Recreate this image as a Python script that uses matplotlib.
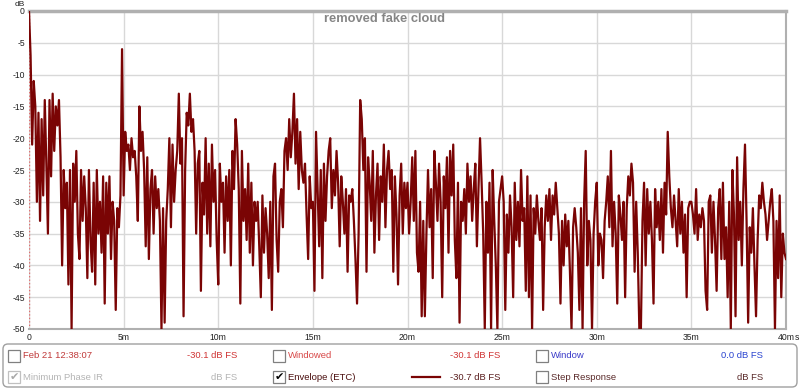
import matplotlib
matplotlib.use("Agg")
import matplotlib.pyplot as plt
from matplotlib.patches import FancyBboxPatch, Rectangle
from matplotlib.lines import Line2D
import numpy as np

plt.rcParams["font.family"] = ["Liberation Sans", "DejaVu Sans"]

# ETC trace, 12 samples per millisecond (0 .. 40 ms)
etc_db = [
    0, -7, -21, -11, -15, -30, -16, -33, -17, -29, -14, -24,
    -35, -14, -26, -13, -22, -15, -18, -14, -23, -40, -25, -31,
    -27, -43, -25, -50, -24, -30, -22, -35, -39, -25, -33, -26,
    -31, -42, -25, -36, -41, -27, -43, -25, -35, -30, -38, -26,
    -46, -27, -35, -26, -39, -30, -33, -47, -31, -34, -29, -6,
    -29, -19, -22, -21, -25, -20, -23, -22, -26, -33, -15, -22,
    -19, -25, -37, -23, -39, -28, -25, -35, -26, -31, -28, -33,
    -50, -31, -49, -33, -28, -20, -34, -21, -30, -25, -22, -13,
    -24, -20, -48, -25, -16, -18, -13, -19, -17, -22, -35, -24,
    -22, -44, -27, -32, -20, -35, -24, -37, -21, -30, -25, -36,
    -43, -24, -30, -27, -38, -26, -33, -25, -40, -22, -28, -17,
    -21, -28, -46, -22, -33, -28, -36, -24, -38, -27, -40, -30,
    -33, -30, -37, -45, -29, -38, -31, -35, -42, -30, -47, -26,
    -24, -36, -41, -30, -28, -34, -22, -20, -25, -17, -23, -19,
    -13, -24, -17, -28, -19, -25, -27, -24, -32, -39, -26, -31,
    -30, -44, -19, -28, -37, -25, -42, -24, -33, -26, -22, -20,
    -31, -25, -29, -22, -27, -37, -26, -30, -35, -28, -41, -29,
    -30, -28, -33, -39, -46, -35, -14, -17, -25, -20, -41, -23,
    -27, -33, -22, -38, -29, -24, -36, -26, -30, -21, -34, -25,
    -22, -28, -25, -41, -26, -32, -43, -29, -24, -35, -27, -31,
    -27, -35, -30, -23, -33, -22, -38, -41, -30, -48, -33, -48,
    -35, -25, -34, -28, -42, -22, -27, -33, -24, -30, -45, -26,
    -31, -23, -38, -22, -29, -21, -36, -42, -27, -49, -30, -33,
    -28, -35, -24, -30, -26, -33, -28, -24, -37, -28, -20, -27,
    -35, -50, -30, -38, -27, -50, -25, -33, -40, -50, -30, -28,
    -26, -30, -47, -32, -38, -29, -34, -45, -27, -36, -30, -37,
    -25, -33, -31, -44, -26, -45, -29, -50, -31, -35, -29, -33,
    -36, -31, -47, -34, -29, -33, -28, -36, -29, -32, -27, -31,
    -35, -46, -33, -40, -32, -37, -33, -41, -50, -34, -31, -34,
    -38, -47, -31, -50, -30, -22, -40, -33, -36, -50, -35, -30,
    -27, -40, -35, -36, -42, -33, -30, -26, -34, -22, -37, -30,
    -35, -46, -29, -32, -36, -30, -45, -31, -26, -29, -24, -27,
    -41, -30, -38, -50, -50, -33, -27, -40, -28, -35, -30, -36,
    -46, -28, -34, -30, -36, -28, -38, -27, -32, -19, -26, -31,
    -34, -29, -33, -37, -28, -35, -30, -38, -32, -45, -31, -30,
    -30, -32, -35, -28, -36, -32, -34, -31, -33, -44, -47, -30,
    -29, -38, -30, -36, -44, -31, -28, -39, -27, -39, -34, -45,
    -30, -50, -25, -32, -48, -23, -36, -30, -40, -28, -21, -33,
    -49, -34, -38, -31, -40, -48, -36, -29, -31, -27, -30, -32,
    -36, -33, -30, -28, -33, -50, -33, -42, -29, -45, -35, -38,
    -39,
]
samples_per_ms = 12
time_ms = np.arange(len(etc_db)) / samples_per_ms

y_ticks = [0, -5, -10, -15, -20, -25, -30, -35, -40, -45, -50]
x_ticks = [0, 5, 10, 15, 20, 25, 30, 35, 40]
x_labels = ["0", "5m", "10m", "15m", "20m", "25m", "30m", "35m", "40m"]

W, H = 800, 389
fig = plt.figure(figsize=(W / 100, H / 100), dpi=100)
fig.patch.set_facecolor("white")


def px(x, y):
    # pixel position (top-left origin) -> inches for dpi_scale_trans
    return x / 100, (H - y) / 100


ax = fig.add_axes([29 / W, 1 - 329 / H, 757 / W, 318 / H])
ax.plot(time_ms, etc_db, color="#7a0404", lw=1.6, zorder=3)
ax.axvline(0, color="#e07070", lw=1.0, ls=(0, (1, 1.5)), zorder=2)
ax.set_xlim(0, 40)
ax.set_ylim(-50, 0)
ax.set_yticks(y_ticks)
ax.set_yticklabels([str(v) for v in y_ticks])
ax.set_xticks(x_ticks)
ax.set_xticklabels(x_labels)
ax.tick_params(length=0, labelsize=6.2, labelcolor="#202020", pad=3)
ax.grid(True, color="#d8d8d8", lw=1.0, zorder=0)
for side in ["top", "right", "bottom"]:
    ax.spines[side].set_color("#b0b0b0")
    ax.spines[side].set_linewidth(1.5)
ax.spines["top"].set_linewidth(2.5)
ax.spines["left"].set_visible(False)

tr = fig.dpi_scale_trans
fig.text(*px(20, 5), "dB", transform=tr, fontsize=6, color="#202020",
         ha="center", va="center")
fig.text(*px(795, 337), "s", transform=tr, fontsize=6.2, color="#202020",
         ha="left", va="center")
fig.text(*px(385, 19), "removed fake cloud", transform=tr, fontsize=9.3,
         fontweight="bold", color="#858585", ha="center", va="center")

# legend panel
box_x0, box_y0 = px(3, 387)
box_x1, box_y1 = px(797, 344)
fig.patches.append(FancyBboxPatch((box_x0, box_y0), box_x1 - box_x0, box_y1 - box_y0,
                                  boxstyle="round,pad=0,rounding_size=0.05",
                                  transform=tr, fc="white", ec="#a0a0a0", lw=1.0))


def checkbox(x, y, checked=False, color="#808080", check_color="black"):
    bx, by = px(x, y + 12)
    fig.patches.append(Rectangle((bx, by), 0.12, 0.12, transform=tr,
                                 fc="white", ec=color, lw=0.9))
    if checked:
        fig.text(*px(x + 6, y + 6), "\u2714", transform=tr, fontsize=8,
                 color=check_color, ha="center", va="center",
                 family="DejaVu Sans")


def label(x, y, s, color, ha="left"):
    fig.text(*px(x, y), s, transform=tr, fontsize=6.8, color=color,
             ha=ha, va="center")


r1, r2 = 356, 377
checkbox(8, r1 - 6)
label(23, r1, "Feb 21 12:38:07", "#c03a3a")
label(237, r1, "-30.1 dB FS", "#d03434", ha="right")
checkbox(273, r1 - 6)
label(288, r1, "Windowed", "#d84848")
label(500, r1, "-30.1 dB FS", "#d03434", ha="right")
checkbox(536, r1 - 6)
label(551, r1, "Window", "#3a3ac8")
label(763, r1, "0.0 dB FS", "#2a44d0", ha="right")

checkbox(8, r2 - 6, checked=True, color="#c0c0c0", check_color="#a8a8a8")
label(23, r2, "Minimum Phase IR", "#b4b4b4")
label(237, r2, "dB FS", "#b4b4b4", ha="right")
checkbox(273, r2 - 6, checked=True)
label(288, r2, "Envelope (ETC)", "#4a0e0e")
lx0, ly0 = px(412, r2)
lx1, _ = px(440, r2)
fig.lines.append(Line2D([lx0, lx1], [ly0, ly0], transform=tr, color="#7a0404", lw=1.6))
label(500, r2, "-30.7 dB FS", "#5a1e1e", ha="right")
checkbox(536, r2 - 6)
label(551, r2, "Step Response", "#5a2a2a")
label(763, r2, "dB FS", "#5a2a2a", ha="right")

fig.savefig("out.png", dpi=100)
